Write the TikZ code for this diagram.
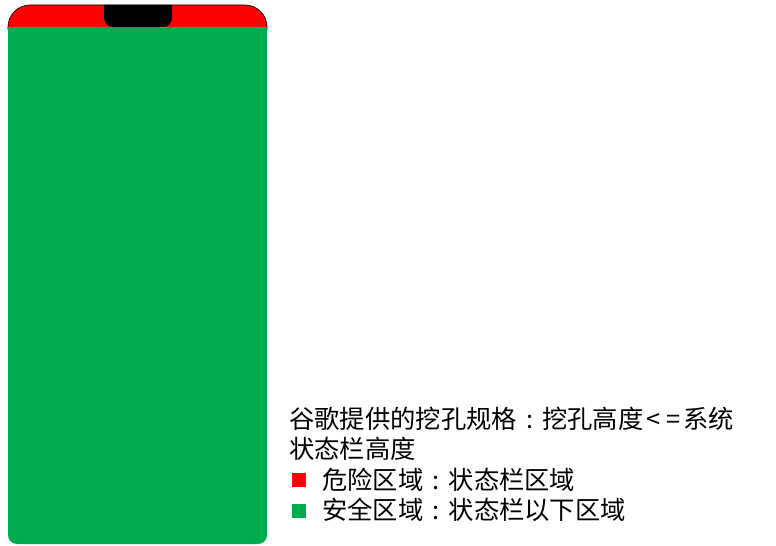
\documentclass[tikz,border=0pt]{standalone}
\usepackage{fontspec}
\newfontfamily\cjk{Noto Sans CJK SC}
\definecolor{dangerred}{HTML}{FF0000}
\definecolor{safegreen}{HTML}{00AD4E}
\newcommand{\fwcolon}{\makebox[1em][c]{:}}
\begin{document}
\begin{tikzpicture}[x=1bp,y=-1bp,
  txt/.style={anchor=base west,inner sep=0pt,font=\cjk\fontsize{25.3bp}{30bp}\selectfont},
  legsq/.style={minimum size=14bp,inner sep=0pt,anchor=north west}]
\useasboundingbox (0,0) rectangle (776,546);
% red status bar area
\path[fill=dangerred,draw=black,line width=0.6bp,rounded corners=22bp]
  (8,30) -- (8,5) -- (267,5) -- (267,30);
% green safe area
\path[fill=safegreen,rounded corners=9bp] (8,27) -- (8,544) -- (267,544) -- (267,27) -- cycle;
\path[fill=safegreen] (8,27) rectangle (267,40);
% notch
\path[fill=black,rounded corners=9bp] (104,5) -- (104,27) -- (172,27) -- (172,5);
\path[fill=black] (104,5) rectangle (172,15);
% texts
\node[txt] (l1) at (289,428) {谷歌提供的挖孔规格\fwcolon 挖孔高度\makebox[20bp][c]{<}\makebox[20bp][c]{=}系统};
\node[txt] (l2) at (289,458.5) {状态栏高度};
\node[legsq,fill=dangerred] (s1) at (292,473) {};
\node[txt] (l3) at (322,489) {危险区域\fwcolon 状态栏区域};
\node[legsq,fill=safegreen] (s2) at (292,504) {};
\node[txt] (l4) at (322,519.5) {安全区域\fwcolon 状态栏以下区域};
\end{tikzpicture}
\end{document}
